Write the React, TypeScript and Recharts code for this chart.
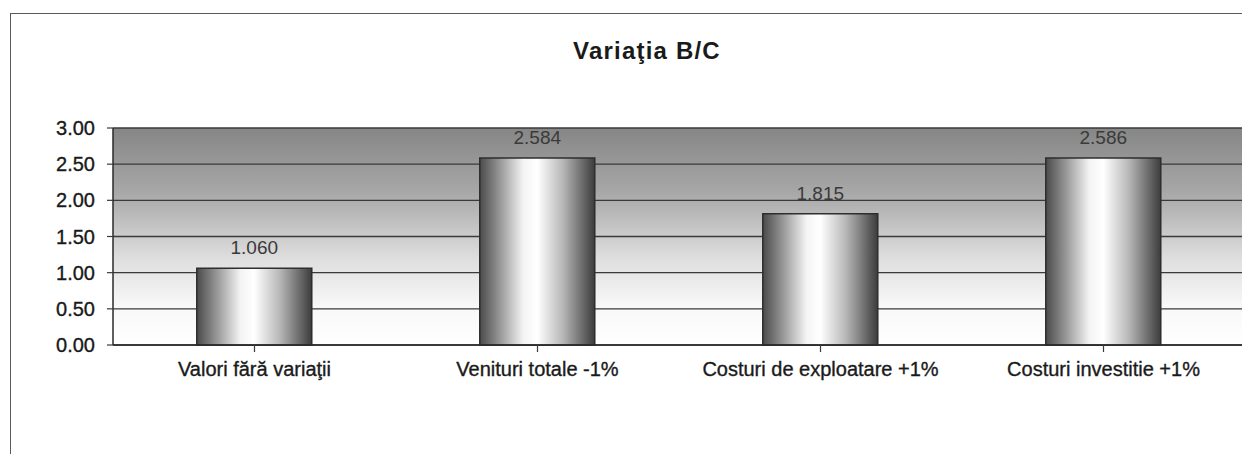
import { Bar, BarChart, CartesianGrid, LabelList, XAxis, YAxis } from 'recharts';

const categories = ['Valori fără variaţii', 'Venituri totale -1%', 'Costuri de exploatare +1%', 'Costuri investitie +1%'];
const ratioValues = [1.06, 2.584, 1.815, 2.586];
const yTicks = [0, 0.5, 1, 1.5, 2, 2.5, 3];

const data = categories.map((name, i) => ({ name, value: ratioValues[i] }));

const FONT = '"Liberation Sans", Arial, sans-serif';

export default function App() {
  return (
    <div
      style={{
        position: 'fixed',
        left: 0,
        top: 0,
        width: 1242,
        height: 454,
        overflow: 'hidden',
        background: '#fff',
        fontFamily: FONT,
      }}
    >
      <div
        style={{
          position: 'absolute',
          left: 10,
          top: 13,
          width: 1300,
          height: 500,
          borderLeft: '1.5px solid #5a5a5a',
          borderTop: '1.5px solid #5a5a5a',
        }}
      />
      <div
        style={{
          position: 'absolute',
          left: 8,
          top: 39,
          width: 1278,
          textAlign: 'center',
          fontSize: 24,
          lineHeight: '24px',
          fontWeight: 'bold',
          letterSpacing: 1.2,
          color: '#1a1a1a',
        }}
      >
        Variaţia B/C
      </div>
      <div style={{ position: 'absolute', left: 8, top: 8 }}>
        <BarChart
          width={1260}
          height={446}
          data={data}
          margin={{ top: 120, right: 23, bottom: 69, left: 0 }}
          barCategoryGap="29.6%"
        >
          <defs>
            <linearGradient id="plotBg" x1="0" y1="0" x2="0" y2="1">
              <stop offset="0%" stopColor="#868686" />
              <stop offset="30%" stopColor="#a8a8a8" />
              <stop offset="60%" stopColor="#dedede" />
              <stop offset="82%" stopColor="#f8f8f8" />
              <stop offset="100%" stopColor="#ffffff" />
            </linearGradient>
            <linearGradient id="barFill" x1="0" y1="0" x2="1" y2="0">
              <stop offset="0%" stopColor="#4a4a4a" />
              <stop offset="15%" stopColor="#8c8c8c" />
              <stop offset="38%" stopColor="#f4f4f4" />
              <stop offset="50%" stopColor="#ffffff" />
              <stop offset="72%" stopColor="#b8b8b8" />
              <stop offset="100%" stopColor="#3c3c3c" />
            </linearGradient>
          </defs>
          <CartesianGrid
            vertical={false}
            stroke="#3a3a3a"
            strokeWidth={1.3}
            fill="url(#plotBg)"
            fillOpacity={1}
          />
          <XAxis
            dataKey="name"
            tickLine={{ stroke: '#3a3a3a', strokeWidth: 1.2 }}
            axisLine={{ stroke: '#2a2a2a', strokeWidth: 1.5 }}
            tickSize={7}
            tickMargin={10}
            height={40}
            interval={0}
            tick={{ fill: '#1a1a1a', stroke: '#1a1a1a', strokeWidth: 0.35, fontSize: 20, fontFamily: FONT }}
          />
          <YAxis
            domain={[0, 3]}
            ticks={yTicks}
            width={105}
            tickSize={6}
            tickMargin={12}
            tickFormatter={(v: number) => v.toFixed(2)}
            tickLine={{ stroke: '#3a3a3a', strokeWidth: 1.2 }}
            axisLine={{ stroke: '#2a2a2a', strokeWidth: 1.5 }}
            tick={{ fill: '#1a1a1a', stroke: '#1a1a1a', strokeWidth: 0.35, fontSize: 20, fontFamily: FONT }}
          />
          <Bar dataKey="value" fill="url(#barFill)" stroke="#2e2e2e" strokeWidth={1.5} isAnimationActive={false}>
            <LabelList
              dataKey="value"
              position="top"
              offset={14}
              formatter={(v: any) => Number(v).toFixed(3)}
              style={{ fill: '#3a3a3a', fontSize: 19, fontFamily: FONT }}
            />
          </Bar>
        </BarChart>
      </div>
    </div>
  );
}
